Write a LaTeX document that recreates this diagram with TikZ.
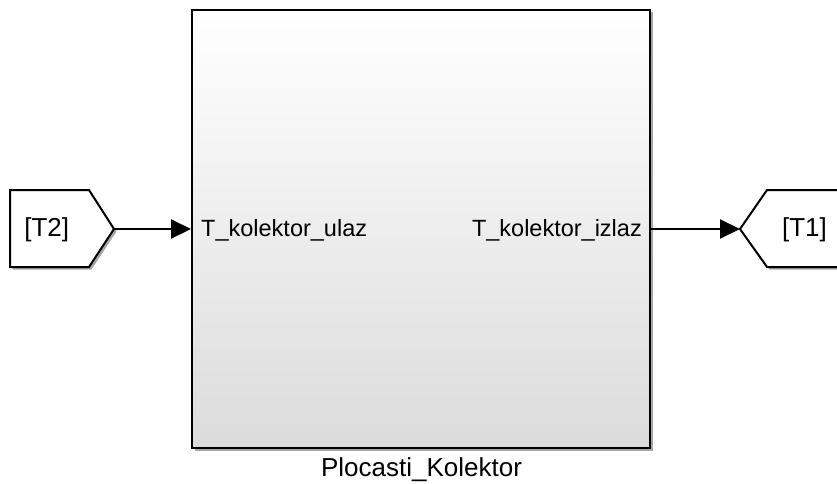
\documentclass[tikz,border=0pt]{standalone}
\usepackage{fontspec}
\setmainfont{Liberation Sans}
\usetikzlibrary{arrows.meta,shadows}
\begin{document}
\begin{tikzpicture}[x=1pt,y=-1pt,
  lbl/.style={font=\fontsize{23.5}{28}\selectfont, inner sep=0pt},
  big/.style={font=\fontsize{26}{31}\selectfont, inner sep=0pt},
  edge/.style={line width=2pt, -{Triangle[length=20pt,width=19pt]}},
  blockshadow/.style={drop shadow={shadow xshift=2.5pt, shadow yshift=-2.5pt, opacity=0.35, fill=black}}
]
\useasboundingbox (0,0) rectangle (837,484);
% main subsystem block
\node[draw, line width=2pt, minimum width=458pt, minimum height=438pt,
      top color=white, bottom color=black!14, blockshadow] (blk) at (421,229) {};
\node[lbl, anchor=base west] (inl) at (201,236.7) {T\_kolektor\_ulaz};
\node[lbl, anchor=base east] (outl) at (642,236.7) {T\_kolektor\_izlaz};
\node[big, anchor=base] (name) at (421.5,476.5) {Plocasti\_Kolektor};
% From block [T2]
\path[draw, line width=2pt, fill=white, line join=miter, blockshadow]
  (10,190) -- (89,190) -- (114,229) -- (89,267) -- (10,267) -- cycle;
\coordinate (t2tip) at (114,229);
\node[big, anchor=base] (t2) at (46.7,236.5) {[T2]};
% Goto block [T1]
\path[draw, line width=2pt, fill=white, line join=miter, blockshadow]
  (850,190) -- (767,190) -- (740,229) -- (767,267) -- (850,267);
\coordinate (t1tip) at (740,229);
\node[big, anchor=base] (t1) at (804.5,236.5) {[T1]};
% connectors
\draw[edge] (t2tip) -- (blk.west);
\draw[edge] (blk.east) -- (t1tip);
\end{tikzpicture}
\end{document}
